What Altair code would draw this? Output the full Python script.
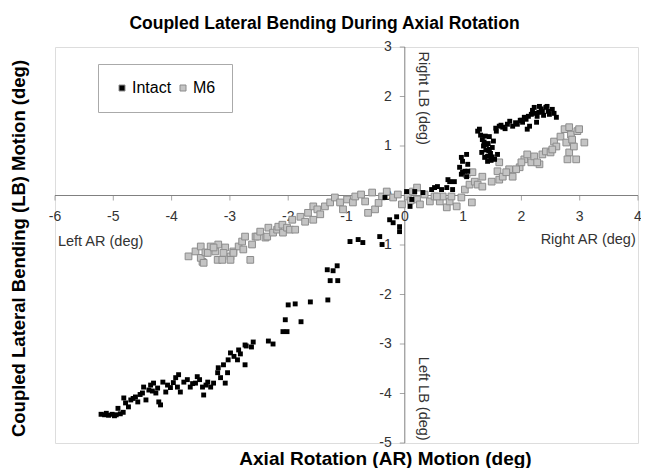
import altair as alt
import pandas as pd

# ---------------- data ----------------
intact_x = [-5.21, -5.15, -5.08, -5.02, -4.95, -4.88, -4.83, -5.12, -4.98,
            -4.82, -4.79, -4.74, -4.70, -4.62, -4.58, -4.50, -4.48, -4.44, -4.39, -4.36,
            -4.31, -4.27, -4.24, -4.22, -4.19, -4.15, -4.10, -4.07, -3.93, -3.88, -3.90,
            -3.85, -3.79, -3.73, -3.68, -3.59, -3.56, -3.47, -3.45, -3.38, -3.33, -3.28,
            -3.21, -3.20, -3.11, -3.08, -3.04, -3.03, -2.99, -2.87, -2.85, -2.74, -2.74,
            -2.82, -2.72, -2.63, -2.60, -2.34, -2.26, -2.09, -2.02, -2.05, -1.78, -2.00,
            -1.88, -1.62, -1.32, -1.28, -1.15, -1.33, -1.23, -1.16,
            -4.92, -4.66, -4.54, -4.33, -4.02, -3.97, -3.64, -3.52, -3.41, -3.16, -2.93,
            -0.94, -0.80, -0.72, -0.43, -0.39, -0.26, -0.20, -0.09, -0.09, -0.14, -0.34,
            0.03, 0.12, 0.09, 0.17, 0.31, 0.46, 0.51, 0.56, 0.63, 0.72, 0.77, 0.74, 0.82,
            0.85, 0.94, 0.97, 0.99, 1.03, 0.99, 1.06, 0.97, 1.08, 1.08, 1.06,
            1.28, 1.32, 1.33, 1.40, 1.42, 1.45, 1.50, 1.54, 1.57, 1.59, 1.62, 1.68, 1.76,
            1.85, 1.93, 2.02, 2.08, 2.14, 2.17, 2.22, 2.27, 2.31, 2.36, 2.42, 2.48, 2.53,
            2.60, 2.26, 2.10, 1.45, 1.37, 1.48, 1.42, 1.35, 1.38, 1.25, 2.44, 2.19, 2.30,
            2.38, 2.05, 1.98, 1.72, 1.52, 1.47,
            1.30, 1.36, 1.44, 1.56, 1.65, 1.80, 1.90, 2.00, 2.12, 2.24, 2.34, 2.46, 2.56,
            1.39, 1.50, 1.43]
intact_y = [-4.42, -4.43, -4.44, -4.42, -4.43, -4.41, -4.38, -4.40, -4.45,
            -4.09, -4.19, -4.27, -4.13, -4.07, -4.17, -3.99, -3.87, -4.13, -3.93, -3.83,
            -3.79, -3.99, -3.89, -4.17, -4.23, -3.77, -3.97, -3.83, -3.68, -3.62, -3.87,
            -3.97, -3.77, -3.72, -3.87, -3.79, -3.66, -3.87, -4.03, -3.77, -3.87, -3.79,
            -3.58, -3.48, -3.42, -3.79, -3.58, -3.32, -3.18, -3.32, -3.12, -3.42, -3.02,
            -3.20, -3.04, -3.06, -2.96, -2.94, -3.00, -2.75, -2.75, -2.51, -2.55, -2.21,
            -2.19, -2.15, -2.11, -1.72, -1.72, -1.50, -1.52, -1.42,
            -4.30, -4.10, -4.02, -3.95, -3.88, -3.78, -3.80, -3.72, -3.83, -3.68, -3.25,
            -0.93, -0.89, -0.95, -0.83, -0.99, -0.49, -0.55, -0.63, -0.73, -0.43, -0.04,
            0.08, -0.08, -0.22, 0.08, 0.06, 0.12, 0.16, 0.18, 0.12, 0.16, 0.28, 0.32, 0.12,
            0.28, 0.57, 0.43, 0.47, 0.49, 0.69, 0.83, 0.77, 0.63, 0.49, 0.38,
            1.34, 0.87, 1.13, 1.03, 0.79, 1.19, 0.97, 0.73, 1.30, 0.83, 1.40, 1.38, 1.44,
            1.40, 1.44, 1.48, 1.54, 1.40, 1.64, 1.78, 1.60, 1.80, 1.70, 1.78, 1.64, 1.74,
            1.58, 1.48, 1.34, 0.93, 0.77, 0.71, 0.69, 1.00, 1.20, 1.30, 1.80, 1.72, 1.68,
            1.62, 1.58, 1.52, 1.35, 1.10, 0.85,
            1.22, 1.08, 0.90, 1.36, 1.42, 1.50, 1.47, 1.52, 1.60, 1.66, 1.75, 1.70, 1.66,
            0.92, 0.78, 1.05]

m6_x = [-3.71, -3.59, -3.50, -3.47, -3.50, -3.45, -3.42, -3.33, -3.25, -3.20, -3.21,
        -3.13, -3.08, -2.99, -2.99, -2.94, -2.85, -2.79, -2.77, -2.74, -2.65, -2.62,
        -2.56, -2.53, -2.48, -2.39, -2.36, -2.34, -2.26, -2.19, -2.17, -2.09, -2.10,
        -2.02, -1.97, -1.93, -1.88, -1.79, -1.71, -1.66, -1.57, -1.57, -1.50, -1.45,
        -1.37, -1.28, -1.20, -1.11, -1.06, -0.99, -0.89, -0.85, -3.38, -3.28, -3.11,
        -2.94,
        -0.68, -0.63, -0.56, -0.51, -0.39, -0.31, -0.20, -0.12, -0.05, 0.05, 0.14, 0.21,
        0.26, 0.34, 0.43, 0.51, 0.60, 0.72, 0.77, 0.89, 0.97, 1.03, 1.11, 1.20, 1.06,
        1.16, 0.21, -0.75, -0.45, 0.10, 0.65, 0.55, 0.80, 1.15,
        1.25, 1.33, 1.49, 1.59, 1.62, 1.68, 1.79, 1.85, 1.97, 2.05, 2.10, 2.17, 2.22,
        2.31, 2.36, 2.42, 2.50, 2.56, 2.60, 2.67, 2.74, 2.77, 2.82, 2.85, 2.90, 2.96,
        3.08, 2.94, 2.79, 2.82, 2.99, 1.62, 1.74, 1.91, 2.00, 2.27, 2.53, 2.87, 1.33]
m6_y = [-1.23, -1.13, -1.03, -1.34, -1.26, -1.36, -1.15, -1.03, -1.13, -0.99, -1.30,
        -1.30, -1.05, -1.23, -1.30, -1.13, -1.03, -0.93, -1.09, -0.83, -1.30, -0.99,
        -0.83, -0.83, -0.73, -0.85, -0.83, -0.65, -0.75, -0.69, -0.63, -0.75, -0.59,
        -0.65, -0.69, -0.49, -0.69, -0.43, -0.53, -0.35, -0.49, -0.22, -0.28, -0.38,
        -0.22, -0.14, -0.04, -0.14, -0.28, -0.08, -0.14, -0.02, -1.16, -1.05, -1.16,
        -1.16,
        -0.12, -0.35, 0.06, -0.28, -0.02, 0.08, -0.04, 0.02, -0.18, -0.02, 0.08, -0.08,
        -0.18, 0.02, -0.12, -0.02, -0.12, -0.24, -0.12, -0.22, -0.04, 0.12, 0.22, 0.28, 0.43,
        0.47, 0.16, 0.02, -0.15, -0.10, -0.02, -0.02, -0.02, -0.14,
        0.22, 0.18, 0.28, 0.49, 0.32, 0.38, 0.53, 0.38, 0.57, 0.73, 0.83, 0.67, 0.79,
        0.63, 0.83, 0.89, 0.87, 1.09, 0.99, 1.19, 1.34, 1.07, 0.87, 1.23, 0.99, 1.30,
        1.07, 0.73, 0.73, 1.38, 1.34, 0.67, 0.47, 0.53, 0.67, 0.67, 0.93, 1.13, 0.38]

series_names = ["Intact", "M6"]
x_ticks = [-6, -5, -4, -3, -2, -1, 0, 1, 2, 3, 4]
y_ticks = [-5, -4, -3, -2, -1, 0, 1, 2, 3]
x_tick_labels = [str(v) for v in x_ticks]
y_tick_labels = [str(v) for v in y_ticks]

h_notes = ["Left AR (deg)", "Right AR (deg)"]
h_notes_x = [-5.95, 2.33]
h_notes_y = [-0.93, -0.89]
v_notes = ["Right LB (deg)", "Left  LB (deg)"]
v_notes_x = [0.31, 0.31]
v_notes_y = [2.91, -3.26]

# ---------------- tables ----------------
intact_df = pd.DataFrame({"x": intact_x, "y": intact_y, "series": "Intact"})
m6_df = pd.DataFrame({"x": m6_x, "y": m6_y, "series": "M6"})
xt_df = pd.DataFrame({"x": x_ticks, "y": [0] * len(x_ticks), "label": x_tick_labels})
yt_df = pd.DataFrame({"x": [0] * len(y_ticks), "y": y_ticks, "label": y_tick_labels})
xaxis_df = pd.DataFrame({"x": [x_ticks[0]], "x2": [x_ticks[-1]], "y": [0]})
yaxis_df = pd.DataFrame({"x": [0], "y": [y_ticks[0]], "y2": [y_ticks[-1]]})
hn_df = pd.DataFrame({"x": h_notes_x, "y": h_notes_y, "label": h_notes})
vn_df = pd.DataFrame({"x": v_notes_x, "y": v_notes_y, "label": v_notes})

FONT = "Arial"
xs = alt.Scale(domain=[-6, 4], nice=False, zero=False)
ys = alt.Scale(domain=[-5, 3], nice=False, zero=False)
xax = alt.Axis(title="Axial Rotation (AR) Motion (deg)", domain=False, ticks=False,
               labels=False, grid=False, titleFont=FONT, titleFontSize=19,
               titleFontWeight="bold", titleColor="#000000", titleX=330, titleY=21,
               titleAlign="center", titleBaseline="alphabetic")
yax = alt.Axis(title="Coupled Lateral Bending (LB) Motion (deg)", domain=False, ticks=False,
               labels=False, grid=False, titleFont=FONT, titleFontSize=18.5,
               titleFontWeight="bold", titleColor="#000000", titleX=-37, titleY=201,
               titleAlign="center", titleBaseline="middle", titleAngle=270)


def X(f="x"):
    return alt.X(f"{f}:Q", scale=xs, axis=xax)


def Y(f="y"):
    return alt.Y(f"{f}:Q", scale=ys, axis=yax)


AX = "#808080"
xline = alt.Chart(xaxis_df).mark_rule(color=AX, strokeWidth=1).encode(x=X(), x2="x2:Q", y=Y())
yline = alt.Chart(yaxis_df).mark_rule(color=AX, strokeWidth=1).encode(x=X(), y=Y(), y2="y2:Q")
xticks = alt.Chart(xt_df).mark_tick(orient="vertical", size=5, thickness=1, color=AX,
                                    yOffset=2.5).encode(x=X(), y=Y())
yticks = alt.Chart(yt_df).mark_tick(orient="horizontal", size=5, thickness=1, color=AX,
                                    xOffset=-2.5).encode(x=X(), y=Y())
xlabels = alt.Chart(xt_df).mark_text(font=FONT, fontSize=14, color="#333333", align="center",
                                     baseline="top", dy=14).encode(x=X(), y=Y(), text="label:N")
ylabels = alt.Chart(yt_df).mark_text(font=FONT, fontSize=14, color="#333333", align="right",
                                     baseline="middle", dx=-13).encode(x=X(), y=Y(), text="label:N")
hnotes = alt.Chart(hn_df).mark_text(font=FONT, fontSize=14.5, color="#333333", align="left",
                                    baseline="middle").encode(x=X(), y=Y(), text="label:N")
vnotes = alt.Chart(vn_df).mark_text(font=FONT, fontSize=14.5, color="#333333", align="left",
                                    baseline="middle", angle=90).encode(x=X(), y=Y(), text="label:N")

fill_scale = alt.Scale(domain=series_names, range=["#000000", "#c4c4c4"])
legend = alt.Legend(orient="none", legendX=43, legendY=17, direction="horizontal", title=None,
                    labelFont=FONT, labelFontSize=16, labelColor="#000000",
                    symbolType="square", symbolSize=36, symbolStrokeColor="#8c8c8c",
                    symbolStrokeWidth=1, strokeColor="#aaaaaa", fillColor="#ffffff",
                    padding=16, columnPadding=3, labelOffset=2, gridAlign="none")

gray = alt.Chart(m6_df).mark_square(size=45, opacity=1, stroke="#8c8c8c", strokeWidth=1).encode(
    x=X(), y=Y(), fill=alt.Fill("series:N", scale=fill_scale, legend=legend))
black = alt.Chart(intact_df).mark_square(size=24, opacity=1).encode(
    x=X(), y=Y(), fill=alt.Fill("series:N", scale=fill_scale, legend=legend))

chart = alt.layer(xline, yline, xticks, yticks, xlabels, ylabels, hnotes, vnotes, gray, black).properties(
    width=583, height=396,
    title=alt.TitleParams("Coupled Lateral Bending During Axial Rotation", font=FONT, fontSize=17.5,
                          fontWeight="bold", color="#000000", anchor="middle", dx=-22,
                          offset=-1, baseline="middle"),
    autosize=alt.AutoSizeParams(type="none"),
    padding={"left": 47, "top": 39, "right": 3, "bottom": 25},
).configure_view(stroke=None).configure(font=FONT)

chart.save("out.html", embed_options={"renderer": "svg", "actions": False})
